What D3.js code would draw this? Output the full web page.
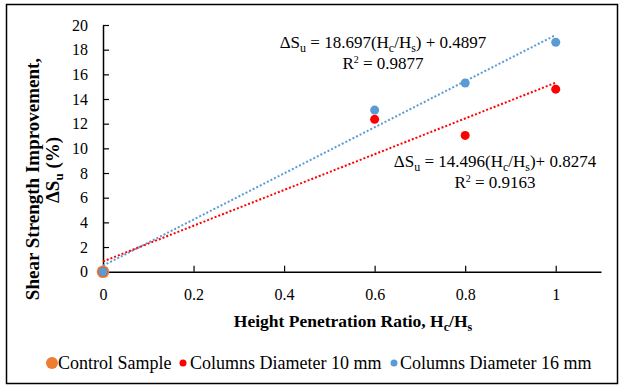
<!DOCTYPE html>
<html>
<head>
<meta charset="UTF-8">
<script src="https://d3js.org/d3.v7.min.js"></script>
<style>
  body { margin: 0; background: #fff; }
  svg text { font-family: "Liberation Serif", "Times New Roman", "Liberation Sans", sans-serif; }
</style>
</head>
<body>
<svg id="chart" width="623" height="388"></svg>
<script>
// data
const controlX = [0], controlY = [0];
const d10x = [0, 0.6, 0.8, 1], d10y = [0, 12.35, 11.05, 14.8];
const d16x = [0, 0.6, 0.8, 1], d16y = [0, 13.1, 15.3, 18.6];
const fit10 = { slope: 14.496, intercept: 0.8274, r2: "0.9163" };
const fit16 = { slope: 18.697, intercept: 0.4897, r2: "0.9877" };
const xTicks = [0, 0.2, 0.4, 0.6, 0.8, 1];
const yTicks = [0, 2, 4, 6, 8, 10, 12, 14, 16, 18, 20];
const legendLabels = ["Control Sample", "Columns Diameter 10 mm", "Columns Diameter 16 mm"];

const orange = "#ED7D31", red = "#FF0000", blue = "#5B9BD5";

const svg = d3.select("#chart");
svg.append("rect").attr("x", 6.5).attr("y", 4.5).attr("width", 611).attr("height", 379)
  .attr("fill", "#fff").attr("stroke", "#000").attr("stroke-width", 1.5);

const x = d3.scaleLinear().domain([0, 1.1]).range([103, 601]);
const y = d3.scaleLinear().domain([0, 20]).range([271.7, 25]);

// axes
const xAxis = svg.append("g").attr("transform", `translate(0,${y(0)})`)
  .call(d3.axisBottom(x).tickValues(xTicks).tickSizeInner(-6).tickSizeOuter(0).tickPadding(17)
    .tickFormat(d => d));
const yAxis = svg.append("g").attr("transform", `translate(${x(0)},0)`)
  .call(d3.axisLeft(y).tickValues(yTicks).tickSizeInner(-6).tickSizeOuter(0).tickPadding(15));
[xAxis, yAxis].forEach(g => {
  g.attr("font-family", null);
  g.select(".domain").attr("stroke", "#000").attr("stroke-width", 1.5);
  g.selectAll(".tick line").attr("stroke", "#000").attr("stroke-width", 1.2);
  g.selectAll("text").attr("font-size", 16).attr("fill", "#000");
});

// trendlines
function trend(f, color) {
  svg.append("line")
    .attr("x1", x(0)).attr("y1", y(f.intercept))
    .attr("x2", x(1)).attr("y2", y(f.slope + f.intercept))
    .attr("stroke", color).attr("stroke-width", 2).attr("stroke-dasharray", "2,2");
}
trend(fit16, blue);
trend(fit10, red);

// points
svg.selectAll(".ctl").data(controlX).enter().append("circle")
  .attr("cx", d => x(d)).attr("cy", (d, i) => y(controlY[i])).attr("r", 6.3).attr("fill", orange);
svg.selectAll(".p10").data(d10x).enter().append("circle")
  .attr("cx", d => x(d)).attr("cy", (d, i) => y(d10y[i])).attr("r", 4.5).attr("fill", red);
svg.selectAll(".p16").data(d16x).enter().append("circle")
  .attr("cx", d => x(d)).attr("cy", (d, i) => y(d16y[i])).attr("r", 4.5).attr("fill", blue);

// equation labels
function eq(cx, by, f, tight) {
  const t = svg.append("text").attr("x", cx).attr("y", by).attr("text-anchor", "middle")
    .attr("font-size", 17).attr("fill", "#000");
  t.append("tspan").text("ΔS");
  t.append("tspan").text("u").attr("font-size", 12).attr("dy", 4);
  t.append("tspan").text(" = " + f.slope + "(H").attr("dy", -4);
  t.append("tspan").text("c").attr("font-size", 12).attr("dy", 4);
  t.append("tspan").text("/H").attr("dy", -4);
  t.append("tspan").text("s").attr("font-size", 12).attr("dy", 4);
  t.append("tspan").text(tight ? ")+  " + f.intercept : ") + " + f.intercept).attr("dy", -4);
  const r = svg.append("text").attr("x", cx).attr("y", by + 21).attr("text-anchor", "middle")
    .attr("font-size", 17).attr("fill", "#000");
  r.append("tspan").text("R");
  r.append("tspan").text("2").attr("font-size", 10).attr("dy", -6);
  r.append("tspan").text(" = " + f.r2).attr("dy", 6);
}
eq(383, 48, fit16, false);
eq(495, 167, fit10, true);

// axis titles
svg.append("text").attr("transform", "translate(39,179) rotate(-90)")
  .attr("text-anchor", "middle").attr("font-size", 19).attr("font-weight", "bold").attr("fill", "#000")
  .text("Shear Strength Improvement,");
const yt2 = svg.append("text").attr("transform", "translate(59,170) rotate(-90)")
  .attr("text-anchor", "middle").attr("font-size", 19).attr("font-weight", "bold").attr("fill", "#000");
yt2.append("tspan").text("ΔS");
yt2.append("tspan").text("u").attr("font-size", 13).attr("dy", 4);
yt2.append("tspan").text(" (%)").attr("dy", -4);

const xt = svg.append("text").attr("x", 353).attr("y", 327).attr("text-anchor", "middle")
  .attr("font-size", 17.5).attr("font-weight", "bold").attr("fill", "#000");
xt.append("tspan").text("Height Penetration Ratio, H");
xt.append("tspan").text("c").attr("font-size", 12).attr("dy", 4);
xt.append("tspan").text("/H").attr("dy", -4);
xt.append("tspan").text("s").attr("font-size", 12).attr("dy", 4);

// legend
const legendStyle = [
  { color: orange, r: 6, cx: 52, tx: 58 },
  { color: red, r: 3.5, cx: 183, tx: 190 },
  { color: blue, r: 3.5, cx: 394, tx: 400 }
];
const lg = svg.append("g");
legendLabels.forEach((label, i) => {
  const s = legendStyle[i];
  lg.append("circle").attr("cx", s.cx).attr("cy", 363).attr("r", s.r).attr("fill", s.color);
  lg.append("text").attr("x", s.tx).attr("y", 369).attr("font-size", 18).attr("fill", "#000").text(label);
});
</script>
</body>
</html>
